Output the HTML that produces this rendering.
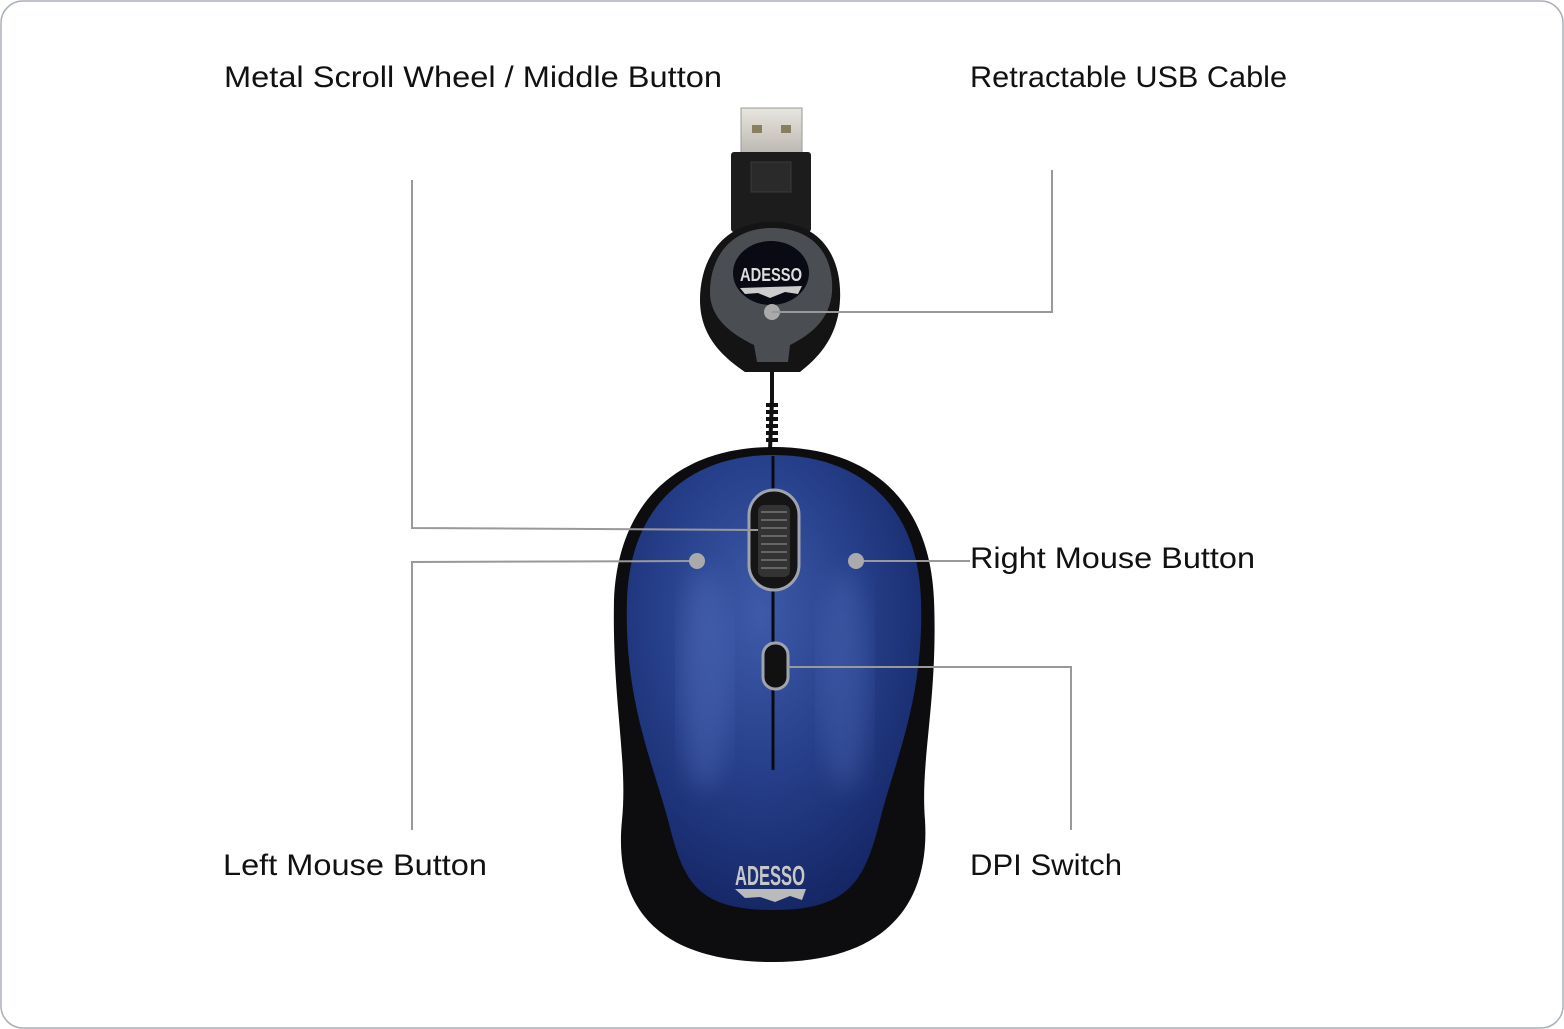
<!DOCTYPE html>
<html><head><meta charset="utf-8"><style>
html,body{margin:0;padding:0;background:#fff;}
svg{display:block;}
text{font-family:"Liberation Sans",sans-serif;font-size:30px;fill:#111;}
</style></head><body>
<svg width="1564" height="1029" viewBox="0 0 1564 1029" xmlns="http://www.w3.org/2000/svg">
<defs>
<radialGradient id="blue" cx="0.45" cy="0.35" r="0.7">
<stop offset="0" stop-color="#3e5aa8"/><stop offset="0.5" stop-color="#263f8a"/><stop offset="1" stop-color="#142462"/>
</radialGradient>
<linearGradient id="metal" x1="0" y1="0" x2="0" y2="1"><stop offset="0" stop-color="#e8e6e0"/><stop offset="1" stop-color="#b9b6ae"/></linearGradient>
<filter id="blur"><feGaussianBlur stdDeviation="12"/></filter>
</defs>
<rect x="1" y="1" width="1562" height="1027" rx="22" fill="#fff" stroke="#a9b0b8" stroke-width="1.5"/>

<text x="224" y="87" textLength="498" lengthAdjust="spacingAndGlyphs">Metal Scroll Wheel / Middle Button</text>
<text x="970" y="87" textLength="317" lengthAdjust="spacingAndGlyphs">Retractable USB Cable</text>
<text x="970" y="568" textLength="285" lengthAdjust="spacingAndGlyphs">Right Mouse Button</text>
<text x="223" y="875" textLength="264" lengthAdjust="spacingAndGlyphs">Left Mouse Button</text>
<text x="970" y="875" textLength="152" lengthAdjust="spacingAndGlyphs">DPI Switch</text>

<rect x="741" y="108" width="61" height="48" fill="url(#metal)" stroke="#999" stroke-width="1"/>
<rect x="752" y="125" width="10" height="8" fill="#8a7e60"/><rect x="781" y="125" width="10" height="8" fill="#8a7e60"/>
<rect x="731" y="152" width="80" height="80" rx="3" fill="#1c1c1c"/>
<rect x="751" y="162" width="40" height="30" fill="#2a2a2a" stroke="#3a3a3a"/>
<path d="M772 222 C825 222 842 262 840 300 C838 340 815 360 800 372 L745 372 C728 360 700 340 700 300 C700 262 720 222 772 222Z" fill="#141414"/>
<path d="M772 228 C818 228 834 260 832 292 C830 320 810 335 790 345 L788 362 L757 362 L754 345 C734 335 710 320 710 292 C710 260 728 228 772 228Z" fill="#4a4d52"/>
<ellipse cx="771" cy="273" rx="38" ry="32" fill="#0a0a14"/>
<text x="771" y="281" text-anchor="middle" style="font-size:18px;fill:#ddd;font-weight:bold" textLength="62" lengthAdjust="spacingAndGlyphs">ADESSO</text>
<path d="M740 288 L802 286 L798 294 L785 292 L770 298 L758 293 L745 294Z" fill="#ccc"/>
<circle cx="772" cy="312" r="8" fill="#aaa"/>
<path d="M772 372 L772 400 M772 400 L770 450" stroke="#111" stroke-width="4" fill="none"/>
<path d="M766 405 h12 M766 412 h12 M766 419 h12 M766 426 h12 M766 433 h12 M766 440 h12" stroke="#111" stroke-width="4"/>

<path d="M773 447 C870 447 930 500 934 600 C938 700 920 760 925 820 C930 900 890 962 773 962 C650 962 614 900 622 820 C628 760 612 700 614 600 C618 500 680 447 773 447Z" fill="#0d0d10"/>
<path d="M773 455 C860 455 918 505 921 600 C924 700 895 760 880 820 C865 880 850 910 773 910 C695 910 683 880 668 820 C652 760 624 700 627 600 C630 505 690 455 773 455Z" fill="url(#blue)"/>
<ellipse cx="705" cy="680" rx="25" ry="110" fill="#5a76c4" opacity="0.35" filter="url(#blur)"/>
<ellipse cx="845" cy="680" rx="25" ry="110" fill="#5a76c4" opacity="0.3" filter="url(#blur)"/>
<line x1="773" y1="456" x2="773" y2="770" stroke="#0a0a12" stroke-width="3"/>
<rect x="749" y="490" width="50" height="100" rx="25" fill="#151515" stroke="#9ea3ad" stroke-width="3"/>
<rect x="758" y="505" width="32" height="72" rx="6" fill="#333"/>
<g stroke="#777" stroke-width="1.5">
<line x1="761" y1="512" x2="787" y2="512"/><line x1="761" y1="520" x2="787" y2="520"/><line x1="761" y1="528" x2="787" y2="528"/><line x1="761" y1="536" x2="787" y2="536"/><line x1="761" y1="544" x2="787" y2="544"/><line x1="761" y1="552" x2="787" y2="552"/><line x1="761" y1="560" x2="787" y2="560"/><line x1="761" y1="568" x2="787" y2="568"/>
</g>
<rect x="763" y="643" width="25" height="46" rx="12" fill="#111" stroke="#9ea3ad" stroke-width="3"/>
<text x="770" y="885" text-anchor="middle" style="font-size:28px;fill:#c8c8c8;font-weight:bold" textLength="70" lengthAdjust="spacingAndGlyphs">ADESSO</text>
<path d="M735 889 L806 889 L802 900 L790 896 L775 902 L760 897 L745 898Z" fill="#bbb"/>

<g stroke="#999" stroke-width="2" fill="none">
<polyline points="412,180 412,528 758,530"/>
<polyline points="412,830 412,562 697,561"/>
<line x1="856" y1="561" x2="970" y2="561"/>
<polyline points="788,667 1071,667 1071,830"/>
<polyline points="772,312 1052,312 1052,170"/>
</g>
<circle cx="697" cy="561" r="8" fill="#aaa"/>
<circle cx="856" cy="561" r="8" fill="#aaa"/>
</svg>
</body></html>
